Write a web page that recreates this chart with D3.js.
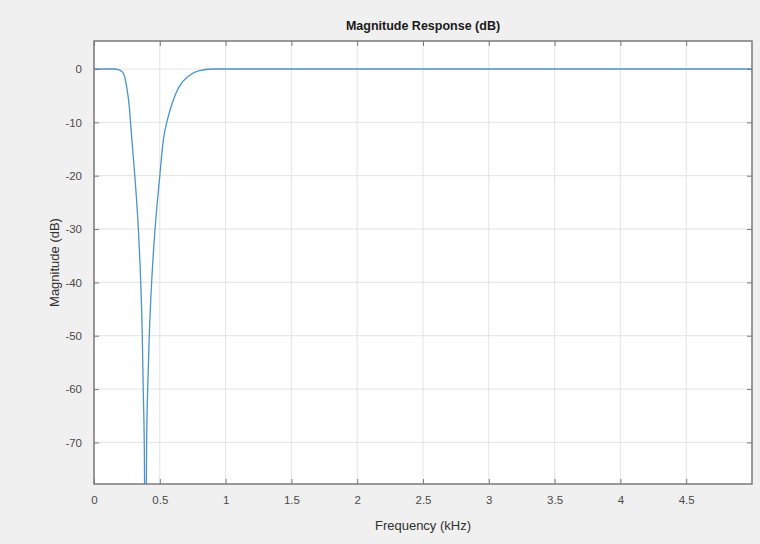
<!DOCTYPE html>
<html>
<head>
<meta charset="utf-8">
<script src="https://cdn.jsdelivr.net/npm/d3@7"></script>
<style>
  body { margin: 0; background: #f0f0f0; }
  svg { display: block; font-family: "Liberation Sans", Arial, sans-serif; }
</style>
</head>
<body>
<div id="chart"></div>
<script>
// magnitude response (kHz, dB)
var freqs = [0, 0.1, 0.15, 0.185, 0.205, 0.223, 0.248, 0.268, 0.286, 0.31, 0.337, 0.355, 0.367, 0.374, 0.382, 0.391,
             0.4, 0.408, 0.42, 0.438, 0.464, 0.5, 0.527, 0.56, 0.6, 0.645, 0.72, 0.8, 0.9, 1, 2, 3, 4, 5];
var mags = [0, 0, 0, -0.1, -0.35, -0.8, -3.3, -7, -12.7, -20, -30, -40, -50, -60, -70, -100,
            -70, -60, -50, -40, -30, -20, -13.3, -9.3, -6, -3.4, -1.3, -0.3, 0, 0, 0, 0, 0, 0];
var xTicks = [0, 0.5, 1, 1.5, 2, 2.5, 3, 3.5, 4, 4.5];
var yTicks = [0, -10, -20, -30, -40, -50, -60, -70];

var width = 760, height = 544;
var margin = { top: 41, right: 8, bottom: 60, left: 94 },
  w = width - margin.left - margin.right,
  h = height - margin.top - margin.bottom;

var svg = d3.select("#chart").append("svg")
  .attr("width", width)
  .attr("height", height);

svg.append("rect").attr("width", width).attr("height", height).attr("fill", "#f0f0f0");

var g = svg.append("g").attr("transform", "translate(" + margin.left + "," + margin.top + ")");

var x = d3.scaleLinear().domain([0, 5]).range([0, w]);
var y = d3.scaleLinear().domain([-77.8, 5.25]).range([h, 0]);

g.append("rect").attr("width", w).attr("height", h).attr("fill", "#fff");

// grid
g.selectAll(".gx").data(xTicks).enter().append("line")
  .attr("x1", d => x(d)).attr("x2", d => x(d))
  .attr("y1", 0).attr("y2", h)
  .attr("stroke", "#e3e3e3");
g.selectAll(".gy").data(yTicks).enter().append("line")
  .attr("y1", d => y(d)).attr("y2", d => y(d))
  .attr("x1", 0).attr("x2", w)
  .attr("stroke", "#e3e3e3");

// curve
g.append("clipPath").attr("id", "clip").append("rect").attr("width", w).attr("height", h);
g.append("path")
  .datum(freqs.map((f, i) => [f, mags[i]]))
  .attr("clip-path", "url(#clip)")
  .attr("fill", "none")
  .attr("stroke", "#4b93cc")
  .attr("stroke-width", 1.3)
  .attr("d", d3.line().x(d => x(d[0])).y(d => y(d[1])).curve(d3.curveMonotoneX));

// axes (ticks inward, mirrored)
var axisColor = "#7a7a7a";
function styleAxis(sel) {
  sel.select(".domain").remove();
  sel.selectAll(".tick line").attr("stroke", axisColor);
  sel.selectAll(".tick text").attr("fill", "#4a4a4a").style("font-size", "11.5px");
}
g.append("g").attr("transform", "translate(0," + h + ")")
  .call(d3.axisBottom(x).tickValues(xTicks).tickSizeInner(-5).tickPadding(12).tickFormat(d => String(d)))
  .call(styleAxis);
g.append("g")
  .call(d3.axisTop(x).tickValues(xTicks).tickSizeInner(-5).tickFormat(""))
  .call(styleAxis);
g.append("g")
  .call(d3.axisLeft(y).tickValues(yTicks).tickSizeInner(-5).tickPadding(12).tickFormat(d => String(d)))
  .call(styleAxis);
g.append("g").attr("transform", "translate(" + w + ",0)")
  .call(d3.axisRight(y).tickValues(yTicks).tickSizeInner(-5).tickFormat(""))
  .call(styleAxis);

g.append("rect").attr("width", w).attr("height", h)
  .attr("fill", "none").attr("stroke", axisColor).attr("stroke-width", 1.5);

// labels
svg.append("text")
  .attr("x", margin.left + w / 2).attr("y", 30)
  .attr("text-anchor", "middle")
  .style("font-size", "12.5px").style("font-weight", "bold").attr("fill", "#1a1a1a")
  .text("Magnitude Response (dB)");
svg.append("text")
  .attr("x", margin.left + w / 2).attr("y", 530)
  .attr("text-anchor", "middle")
  .style("font-size", "13px").attr("fill", "#303030")
  .text("Frequency (kHz)");
svg.append("text")
  .attr("transform", "translate(59," + (margin.top + h / 2) + ") rotate(-90)")
  .attr("text-anchor", "middle")
  .style("font-size", "13px").attr("fill", "#303030")
  .text("Magnitude (dB)");
</script>
</body>
</html>
